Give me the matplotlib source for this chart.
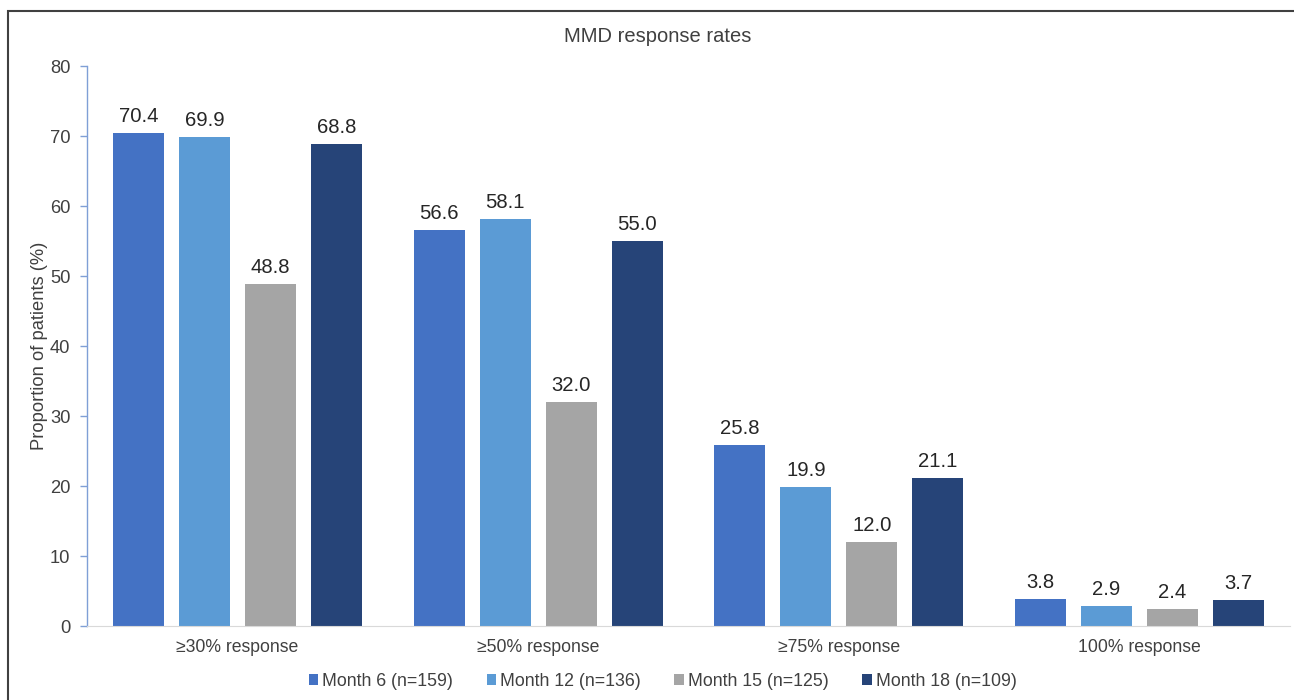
import numpy as np
import matplotlib.pyplot as plt
from matplotlib.patches import Rectangle

plt.rcParams['font.family'] = ['Liberation Sans', 'DejaVu Sans']

# donnees
categories = ['≥30% response', '≥50% response', '≥75% response', '100% response']
series = ['Month 6 (n=159)', 'Month 12 (n=136)', 'Month 15 (n=125)', 'Month 18 (n=109)']
month6 = [70.4, 56.6, 25.8, 3.8]
month12 = [69.9, 58.1, 19.9, 2.9]
month15 = [48.8, 32.0, 12.0, 2.4]
month18 = [68.8, 55.0, 21.1, 3.7]
couleurs = ['#4472C4', '#5B9BD5', '#A5A5A5', '#264478']

fig = plt.figure(figsize=(12.94, 7), dpi=100)
ax = fig.add_axes([0.0672, 0.1057, 0.9297, 0.80])

x = np.arange(len(categories))
pas = 0.2195
largeur = 0.17
for i, (vals, nom) in enumerate(zip([month6, month12, month15, month18], series)):
    pos = x + (i - 1.5) * pas
    barres = ax.bar(pos, vals, largeur, color=couleurs[i], label=nom, zorder=2)
    ax.bar_label(barres, labels=[f'{v:.1f}' for v in vals], padding=5,
                 fontsize=14.6, color='#262626')

ax.set_xlim(-0.5, 3.5)
ax.set_ylim(0, 80)
ax.set_yticks(range(0, 81, 10))
ax.set_xticks(x)
ax.set_xticklabels(categories, fontsize=12.7, color='#404040')
ax.tick_params(axis='x', length=0, pad=9)
ax.tick_params(axis='y', labelsize=13.2, labelcolor='#404040', color='#7F9FD6',
               length=5, width=1, pad=7)

for s in ['top', 'right']:
    ax.spines[s].set_visible(False)
ax.spines['left'].set_color('#7F9FD6')
ax.spines['bottom'].set_color('#D9D9D9')
ax.spines['left'].set_linewidth(1)

ax.set_ylabel('Proportion of patients (%)', fontsize=13.2, color='#404040', labelpad=1)
fig.text(0.508, 1 - 36 / 700, 'MMD response rates', ha='center', va='center',
         fontsize=14.5, color='#404040')

fig.legend(loc='center', bbox_to_anchor=(0.512, 1 - 681 / 700), ncol=4,
           frameon=False, fontsize=12.8, handlelength=0.55, handleheight=0.55,
           handletextpad=0.2, columnspacing=1.9, labelcolor='#404040')

# cadre autour du graphique
fig.patches.append(Rectangle((8 / 1294, -0.1), 1.2, 1 - 11 / 700 + 0.1,
                             transform=fig.transFigure, fill=False,
                             edgecolor='#404040', linewidth=1.5))

fig.savefig('out.png', dpi=100)
